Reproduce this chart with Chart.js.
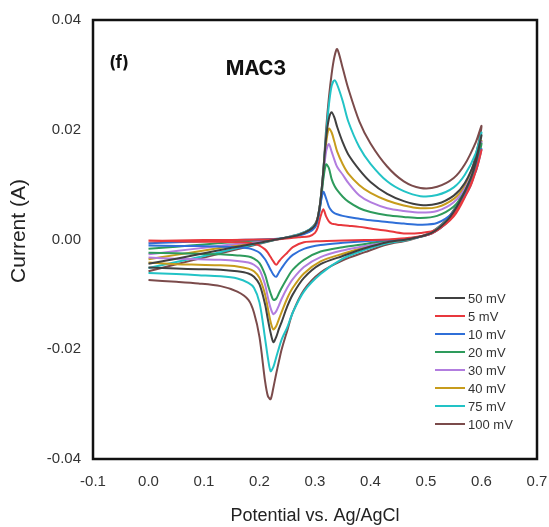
<!DOCTYPE html>
<html>
<head>
<meta charset="utf-8">
<script src="https://cdn.jsdelivr.net/npm/chart.js"></script>
<style>
  body { margin: 0; background: #fff; }
  #wrap { width: 549px; height: 527px; }
</style>
</head>
<body>
<div id="wrap"><canvas id="cv" width="549" height="527"></canvas></div>
<script>
// scan rates (legend order)
const scanRates = ['50 mV', '5 mV', '10 mV', '20 mV', '30 mV', '40 mV', '75 mV', '100 mV'];
const lineColors = ['#404040', '#e8383d', '#2f6fd8', '#2e9b5c', '#b27ddf', '#c79c1c', '#22c3c6', '#7b4b4b'];

// potential grid, forward sweep (0 -> 0.6 V) and return sweep (0.6 -> 0 V)
const potentialFwd = [0, 0.05, 0.1, 0.15, 0.2, 0.24, 0.27, 0.29, 0.30, 0.305, 0.31, 0.315, 0.32, 0.325, 0.33, 0.335, 0.34, 0.35, 0.36, 0.38, 0.40, 0.43, 0.46, 0.49, 0.52, 0.55, 0.57, 0.59, 0.6];
const potentialRev = [0.59, 0.58, 0.56, 0.54, 0.51, 0.47, 0.43, 0.39, 0.35, 0.31, 0.28, 0.26, 0.25, 0.24, 0.235, 0.23, 0.225, 0.22, 0.215, 0.21, 0.2, 0.19, 0.18, 0.16, 0.13, 0.09, 0.05, 0];

// current (A)
const cur50Fwd  = [-0.0044, -0.0035, -0.0025, -0.0015, -0.0006, 0.0002, 0.0008, 0.0017, 0.0026, 0.0040, 0.0072, 0.0125, 0.0185, 0.0220, 0.0232, 0.0222, 0.0205, 0.0177, 0.0155, 0.0127, 0.0105, 0.0083, 0.0070, 0.0063, 0.0065, 0.0080, 0.0103, 0.0148, 0.0190];
const cur50Rev  = [0.0142, 0.0110, 0.0068, 0.0037, 0.0012, 0.0001, -0.0005, -0.0016, -0.0030, -0.0045, -0.0070, -0.0100, -0.0122, -0.0150, -0.0163, -0.0178, -0.0187, -0.0170, -0.0145, -0.0118, -0.0082, -0.0068, -0.0062, -0.0058, -0.0055, -0.0054, -0.0053, -0.0051];
const cur5Fwd   = [-0.0002, -0.0002, -0.0001, -0.0001, 0.0000, 0.0001, 0.0004, 0.0006, 0.0012, 0.0022, 0.0042, 0.0055, 0.0042, 0.0033, 0.0029, 0.0028, 0.0027, 0.0026, 0.0025, 0.0023, 0.0020, 0.0016, 0.0011, 0.0012, 0.0018, 0.0042, 0.0077, 0.0125, 0.0163];
const cur5Rev   = [0.0126, 0.0097, 0.0061, 0.0033, 0.0011, 0.0003, 0.0000, -0.0001, -0.0002, -0.0003, -0.0005, -0.0014, -0.0024, -0.0034, -0.0040, -0.0046, -0.0040, -0.0032, -0.0024, -0.0018, -0.0011, -0.0008, -0.0006, -0.0005, -0.0004, -0.0004, -0.0003, -0.0003];
const cur10Fwd  = [-0.0007, -0.0005, -0.0003, -0.0001, 0.0000, 0.0002, 0.0007, 0.0014, 0.0022, 0.0035, 0.0065, 0.0087, 0.0075, 0.0060, 0.0052, 0.0048, 0.0046, 0.0043, 0.0041, 0.0038, 0.0035, 0.0032, 0.0029, 0.0027, 0.0030, 0.0050, 0.0080, 0.0125, 0.0165];
const cur10Rev  = [0.0128, 0.0098, 0.0062, 0.0033, 0.0011, 0.0002, -0.0001, -0.0003, -0.0006, -0.0010, -0.0017, -0.0028, -0.0038, -0.0052, -0.0060, -0.0068, -0.0064, -0.0055, -0.0045, -0.0036, -0.0024, -0.0019, -0.0016, -0.0014, -0.0013, -0.0012, -0.0012, -0.0011];
const cur20Fwd  = [-0.0017, -0.0013, -0.0009, -0.0005, -0.0001, 0.0002, 0.0008, 0.0015, 0.0023, 0.0036, 0.0065, 0.0110, 0.0137, 0.0130, 0.0110, 0.0098, 0.0090, 0.0078, 0.0069, 0.0057, 0.0050, 0.0044, 0.0041, 0.0039, 0.0043, 0.0060, 0.0088, 0.0135, 0.0175];
const cur20Rev  = [0.0134, 0.0102, 0.0064, 0.0034, 0.0011, 0.0001, -0.0002, -0.0008, -0.0014, -0.0022, -0.0037, -0.0055, -0.0070, -0.0088, -0.0098, -0.0108, -0.0110, -0.0098, -0.0082, -0.0064, -0.0043, -0.0035, -0.0031, -0.0029, -0.0027, -0.0026, -0.0025, -0.0024];
const cur30Fwd  = [-0.0027, -0.0021, -0.0015, -0.0009, -0.0003, 0.0002, 0.0008, 0.0016, 0.0024, 0.0038, 0.0068, 0.0115, 0.0160, 0.0174, 0.0160, 0.0145, 0.0132, 0.0118, 0.0103, 0.0080, 0.0068, 0.0057, 0.0052, 0.0049, 0.0052, 0.0068, 0.0093, 0.0138, 0.0178];
const cur30Rev  = [0.0136, 0.0104, 0.0065, 0.0035, 0.0012, 0.0001, -0.0003, -0.0012, -0.0020, -0.0032, -0.0050, -0.0072, -0.0088, -0.0108, -0.0120, -0.0131, -0.0136, -0.0125, -0.0105, -0.0082, -0.0055, -0.0046, -0.0042, -0.0039, -0.0037, -0.0036, -0.0035, -0.0033];
const cur40Fwd  = [-0.0036, -0.0028, -0.0020, -0.0012, -0.0004, 0.0002, 0.0008, 0.0016, 0.0025, 0.0040, 0.0070, 0.0120, 0.0175, 0.0202, 0.0195, 0.0178, 0.0160, 0.0137, 0.0120, 0.0099, 0.0085, 0.0071, 0.0062, 0.0057, 0.0059, 0.0074, 0.0097, 0.0140, 0.0180];
const cur40Rev  = [0.0138, 0.0106, 0.0066, 0.0036, 0.0012, 0.0001, -0.0004, -0.0014, -0.0026, -0.0040, -0.0062, -0.0088, -0.0107, -0.0132, -0.0145, -0.0158, -0.0164, -0.0150, -0.0125, -0.0100, -0.0070, -0.0058, -0.0053, -0.0049, -0.0047, -0.0046, -0.0045, -0.0042];
const cur75Fwd  = [-0.0052, -0.0041, -0.0030, -0.0018, -0.0007, 0.0002, 0.0009, 0.0018, 0.0027, 0.0040, 0.0072, 0.0125, 0.0190, 0.0245, 0.0280, 0.0290, 0.0282, 0.0252, 0.0215, 0.0168, 0.0138, 0.0106, 0.0088, 0.0079, 0.0081, 0.0095, 0.0118, 0.0158, 0.0195];
const cur75Rev  = [0.0148, 0.0115, 0.0070, 0.0038, 0.0013, 0.0000, -0.0007, -0.0019, -0.0035, -0.0063, -0.0095, -0.0133, -0.0160, -0.0182, -0.0198, -0.0215, -0.0232, -0.0240, -0.0215, -0.0180, -0.0115, -0.0088, -0.0079, -0.0071, -0.0067, -0.0065, -0.0063, -0.0061];
const cur100Fwd = [-0.0058, -0.0045, -0.0033, -0.0020, -0.0008, 0.0002, 0.0009, 0.0018, 0.0028, 0.0040, 0.0072, 0.0125, 0.0200, 0.0258, 0.0302, 0.0333, 0.0347, 0.0312, 0.0275, 0.0215, 0.0175, 0.0133, 0.0106, 0.0094, 0.0096, 0.0112, 0.0137, 0.0178, 0.0207];
const cur100Rev = [0.0155, 0.0120, 0.0072, 0.0040, 0.0014, -0.0001, -0.0009, -0.0023, -0.0038, -0.0060, -0.0092, -0.0133, -0.0166, -0.0200, -0.0222, -0.0245, -0.0270, -0.0291, -0.0285, -0.0258, -0.0178, -0.0133, -0.0110, -0.0095, -0.0085, -0.0080, -0.0077, -0.0074];

const xTicks = [-0.1, 0.0, 0.1, 0.2, 0.3, 0.4, 0.5, 0.6, 0.7];
const yTicks = [-0.04, -0.02, 0.00, 0.02, 0.04];

const currents = [
  [cur50Fwd, cur50Rev], [cur5Fwd, cur5Rev], [cur10Fwd, cur10Rev], [cur20Fwd, cur20Rev],
  [cur30Fwd, cur30Rev], [cur40Fwd, cur40Rev], [cur75Fwd, cur75Rev], [cur100Fwd, cur100Rev]
];

function loop(fwd, rev) {
  const pts = potentialFwd.map((x, i) => ({ x: x, y: fwd[i] }));
  return pts.concat(potentialRev.map((x, i) => ({ x: x, y: rev[i] })));
}

const datasets = scanRates.map((label, i) => ({
  label: label,
  data: loop(currents[i][0], currents[i][1]),
  borderColor: lineColors[i],
  backgroundColor: lineColors[i],
  borderWidth: 2,
  showLine: true,
  pointRadius: 0,
  tension: 0.3,
  fill: false
}));

// frame, panel labels, y title and the in-plot legend
const decorations = {
  id: 'decorations',
  afterDatasetsDraw(chart) {
    const ctx = chart.ctx;
    const a = chart.chartArea;
    ctx.save();
    ctx.strokeStyle = '#111';
    ctx.lineWidth = 2.5;
    ctx.strokeRect(a.left, a.top, a.right - a.left, a.bottom - a.top);

    ctx.fillStyle = '#111';
    ctx.textBaseline = 'middle';
    ctx.textAlign = 'center';
    ctx.font = 'bold 17px Inter, "DejaVu Sans", sans-serif';
    ctx.fillText('(f)', a.left + 26, a.top + 43);
    ctx.font = 'bold 20px Inter, "DejaVu Sans", sans-serif';
    ctx.fillText('MAC3', a.left + 163, a.top + 49);

    // y axis title, sits a bit above the plot's middle
    ctx.save();
    ctx.translate(19, a.top + 211);
    ctx.rotate(-Math.PI / 2);
    ctx.fillStyle = '#222';
    ctx.font = '21px "Liberation Sans", Arial, sans-serif';
    ctx.fillText('Current (A)', 0, 0);
    ctx.restore();

    // legend
    const lx = a.right - 102;
    let ly = a.top + 278;
    ctx.font = '13px "Liberation Sans", Arial, sans-serif';
    ctx.textAlign = 'left';
    chart.data.datasets.forEach(ds => {
      ctx.strokeStyle = ds.borderColor;
      ctx.lineWidth = 2;
      ctx.beginPath();
      ctx.moveTo(lx, ly);
      ctx.lineTo(lx + 30, ly);
      ctx.stroke();
      ctx.fillStyle = '#333';
      ctx.fillText(ds.label, lx + 33, ly + 1);
      ly += 18;
    });
    ctx.restore();
  }
};

new Chart(document.getElementById('cv'), {
  type: 'scatter',
  data: { datasets: datasets },
  plugins: [decorations],
  options: {
    responsive: false,
    animation: false,
    devicePixelRatio: 1,
    layout: { padding: { left: 0, right: 12, top: 20, bottom: 0 } },
    plugins: {
      legend: { display: false },
      tooltip: { enabled: false }
    },
    scales: {
      x: {
        type: 'linear',
        min: -0.1,
        max: 0.7,
        afterBuildTicks: scale => { scale.ticks = xTicks.map(v => ({ value: v })); },
        afterFit: scale => { scale.height = 68; scale.paddingLeft = 0; scale.paddingRight = 0; },
        grid: { display: false, drawTicks: false },
        border: { display: false },
        ticks: {
          padding: 14,
          color: '#333',
          font: { family: '"Liberation Sans", Arial, sans-serif', size: 15 },
          callback: v => v.toFixed(1)
        },
        title: {
          display: true,
          text: 'Potential vs. Ag/AgCl',
          color: '#222',
          padding: { top: 0, bottom: 0 },
          font: { family: '"Liberation Sans", Arial, sans-serif', size: 18 }
        }
      },
      y: {
        type: 'linear',
        min: -0.04,
        max: 0.04,
        afterBuildTicks: scale => { scale.ticks = yTicks.map(v => ({ value: v })); },
        afterFit: scale => { scale.width = 93; scale.paddingTop = 0; scale.paddingBottom = 0; },
        grid: { display: false, drawTicks: false },
        border: { display: false },
        ticks: {
          padding: 12,
          color: '#333',
          font: { family: '"Liberation Sans", Arial, sans-serif', size: 15 },
          callback: v => v.toFixed(2)
        },
        title: { display: false }
      }
    }
  }
});
</script>
</body>
</html>
